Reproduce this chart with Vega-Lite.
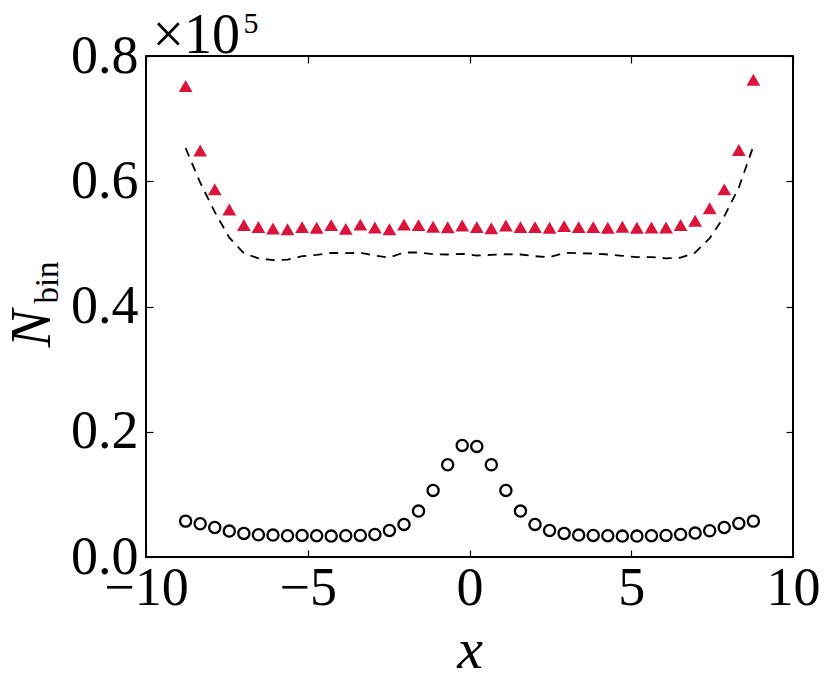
{
  "$schema": "https://vega.github.io/schema/vega-lite/v6.json",
  "width": 647, "height": 501,
  "autosize": "none",
  "padding": {"left": 146, "top": 56, "right": 37, "bottom": 131},
  "background": "white",
  "config": {
    "view": {"stroke": "#000", "strokeWidth": 2},
    "axis": {
      "grid": false, "domain": false, "labelFlush": false,
      "tickColor": "#000", "tickWidth": 1.2, "tickSize": -7,
      "labelFont": "Liberation Serif", "labelFontSize": 54, "labelColor": "#000",
      "titleFont": "Liberation Serif", "titleColor": "#000", "titleFontWeight": "normal"
    }
  },
  "data": {"values": [
    {"x": -8.775, "circ": 5730, "tri": 75200, "dash": 65300},
    {"x": -8.325, "circ": 5310, "tri": 64900, "dash": 59800},
    {"x": -7.875, "circ": 4720, "tri": 58700, "dash": 55100},
    {"x": -7.425, "circ": 4140, "tri": 55500, "dash": 51000},
    {"x": -6.975, "circ": 3770, "tri": 53000, "dash": 48500},
    {"x": -6.525, "circ": 3550, "tri": 52700, "dash": 47700},
    {"x": -6.075, "circ": 3500, "tri": 52450, "dash": 47400},
    {"x": -5.625, "circ": 3400, "tri": 52350, "dash": 47500},
    {"x": -5.175, "circ": 3450, "tri": 52670, "dash": 48030},
    {"x": -4.725, "circ": 3400, "tri": 52560, "dash": 48250},
    {"x": -4.275, "circ": 3340, "tri": 52990, "dash": 48570},
    {"x": -3.825, "circ": 3400, "tri": 52400, "dash": 48510},
    {"x": -3.375, "circ": 3450, "tri": 53070, "dash": 48570},
    {"x": -2.925, "circ": 3600, "tri": 52610, "dash": 48140},
    {"x": -2.475, "circ": 4240, "tri": 52350, "dash": 47820},
    {"x": -2.025, "circ": 5200, "tri": 53070, "dash": 48620},
    {"x": -1.575, "circ": 7330, "tri": 52990, "dash": 48620},
    {"x": -1.125, "circ": 10630, "tri": 52720, "dash": 48350},
    {"x": -0.675, "circ": 14730, "tri": 52640, "dash": 48300},
    {"x": -0.225, "circ": 17820, "tri": 52930, "dash": 48400},
    {"x": 0.225, "circ": 17660, "tri": 52670, "dash": 48140},
    {"x": 0.675, "circ": 14730, "tri": 52510, "dash": 48250},
    {"x": 1.125, "circ": 10630, "tri": 52930, "dash": 48350},
    {"x": 1.575, "circ": 7330, "tri": 52670, "dash": 48300},
    {"x": 2.025, "circ": 5200, "tri": 52670, "dash": 48030},
    {"x": 2.475, "circ": 4240, "tri": 52560, "dash": 47870},
    {"x": 2.925, "circ": 3770, "tri": 52830, "dash": 48570},
    {"x": 3.375, "circ": 3500, "tri": 52670, "dash": 48510},
    {"x": 3.825, "circ": 3450, "tri": 52670, "dash": 48460},
    {"x": 4.275, "circ": 3400, "tri": 52560, "dash": 48300},
    {"x": 4.725, "circ": 3340, "tri": 52720, "dash": 48090},
    {"x": 5.175, "circ": 3340, "tri": 52560, "dash": 47870},
    {"x": 5.625, "circ": 3400, "tri": 52600, "dash": 47900},
    {"x": 6.075, "circ": 3450, "tri": 52600, "dash": 47700},
    {"x": 6.525, "circ": 3600, "tri": 53000, "dash": 47800},
    {"x": 6.975, "circ": 3820, "tri": 53700, "dash": 48600},
    {"x": 7.425, "circ": 4190, "tri": 55700, "dash": 50900},
    {"x": 7.875, "circ": 4720, "tri": 58700, "dash": 54400},
    {"x": 8.325, "circ": 5360, "tri": 65000, "dash": 59000},
    {"x": 8.775, "circ": 5730, "tri": 76200, "dash": 65600}
  ]},
  "layer": [
    {
      "mark": {"type": "line", "color": "#000", "strokeWidth": 1.8, "strokeDash": [9, 7]},
      "encoding": {
        "x": {"field": "x", "type": "quantitative",
              "scale": {"domain": [-10, 10], "nice": false, "zero": false},
              "axis": {"orient": "bottom", "values": [-10, -5, 0, 5, 10], "labelPadding": 11,
                       "title": "x", "titleFontStyle": "italic", "titleFontSize": 58,
                       "titleBaseline": "alphabetic", "titleY": 110}},
        "y": {"field": "dash", "type": "quantitative",
              "scale": {"domain": [0, 80000], "nice": false},
              "axis": {"orient": "left", "values": [0, 20000, 40000, 60000, 80000],
                       "labelExpr": "format(datum.value / 100000, '.1f')", "labelPadding": 15,
                       "title": "N", "titleFontStyle": "italic", "titleFontSize": 56,
                       "titleAngle": -90, "titleAlign": "center", "titleBaseline": "alphabetic",
                       "titleX": -97, "titleY": 272}}
      }
    },
    {
      "mark": {"type": "point", "shape": "circle", "filled": false, "color": "#000", "strokeWidth": 2.3, "size": 125, "opacity": 1},
      "encoding": {
        "x": {"field": "x", "type": "quantitative",
              "axis": {"orient": "top", "values": [-10, -5, 0, 5, 10], "labels": false,
                       "title": "×10", "titleFontSize": 56, "titleAngle": 0, "titleAlign": "left",
                       "titleBaseline": "alphabetic", "titleX": 6, "titleY": -4}},
        "y": {"field": "circ", "type": "quantitative",
              "axis": {"orient": "right", "values": [0, 20000, 40000, 60000, 80000], "labels": false, "title": null}}
      }
    },
    {
      "mark": {"type": "point", "shape": "triangle-up", "filled": true, "color": "#DC143C", "size": 190, "opacity": 1},
      "encoding": {
        "x": {"field": "x", "type": "quantitative",
              "axis": {"orient": "top", "ticks": false, "labels": false,
                       "title": "5", "titleFontSize": 30, "titleAngle": 0, "titleAlign": "left",
                       "titleBaseline": "alphabetic", "titleX": 97, "titleY": -24}},
        "y": {"field": "tri", "type": "quantitative",
              "axis": {"orient": "left", "ticks": false, "labels": false,
                       "title": "bin", "titleFontSize": 33, "titleAngle": -90, "titleAlign": "center",
                       "titleBaseline": "alphabetic", "titleX": -89, "titleY": 226}}
      }
    }
  ],
  "resolve": {"axis": {"x": "independent", "y": "independent"}}
}
